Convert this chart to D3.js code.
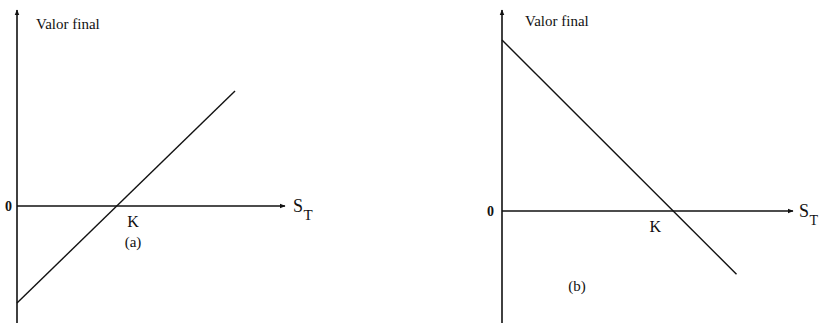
<!DOCTYPE html>
<html>
<head>
<meta charset="utf-8">
<script src="https://cdn.jsdelivr.net/npm/d3@7"></script>
<style>
  html, body { margin: 0; padding: 0; background: #fff; }
  svg { display: block; }
</style>
</head>
<body>
<svg id="chart" width="819" height="323"></svg>
<script>
// Payoff diagrams: value at maturity of a long (a) and a short (b) position, strike K = 100
const panelIds = ["(a)", "(b)"];
const strike = [100, 100];
// end points of each payoff line: S_T and final value
const payoffS = [[0, 218], [0, 137]];
const payoffV = [[-97, 115], [100, -37]];
// axis extents in data units
const xDomains = [[0, 268], [0, 170]];
const yDomains = [[-117, 196], [-65.5, 117.5]];
const yTitle = "Valor final";
const zeroLabel = "0";
const strikeLabel = "K";

const serif = "'Liberation Serif', 'DejaVu Serif', serif";

// layout of each panel on the page
const layout = [
  { x0: 17, x1: 285, yTop: 10, yBot: 323, kDx: 16, capX: 133, capY: 247, titleX: 36, titleY: 29, zeroX: 12, sX: 293, tSize: 15 },
  { x0: 502, x1: 793, yTop: 10, yBot: 323, kDx: -18, capX: 577, capY: 291, titleX: 525, titleY: 26, zeroX: 494, sX: 799, tSize: 14 }
];

const svg = d3.select("#chart");

const defs = svg.append("defs");
defs.append("marker")
  .attr("id", "arrow")
  .attr("viewBox", "0 0 10 10")
  .attr("refX", 9).attr("refY", 5)
  .attr("markerWidth", 6).attr("markerHeight", 6)
  .attr("markerUnits", "userSpaceOnUse")
  .attr("orient", "auto")
  .append("path")
  .attr("d", "M0,1 L10,5 L0,9 Z")
  .attr("fill", "#111");

panelIds.forEach((id, i) => {
  const L = layout[i];
  const x = d3.scaleLinear().domain(xDomains[i]).range([L.x0, L.x1]);
  const y = d3.scaleLinear().domain(yDomains[i]).range([L.yBot, L.yTop]);
  const g = svg.append("g")
    .attr("font-family", serif)
    .attr("fill", "#111");

  // vertical axis with arrow at the top
  g.append("line")
    .attr("x1", x(0)).attr("x2", x(0))
    .attr("y1", y(yDomains[i][0])).attr("y2", y(yDomains[i][1]))
    .attr("stroke", "#111").attr("stroke-width", 1.6)
    .attr("marker-end", "url(#arrow)");

  // horizontal axis through zero with arrow at the right
  g.append("line")
    .attr("x1", x(0)).attr("x2", x(xDomains[i][1]))
    .attr("y1", y(0)).attr("y2", y(0))
    .attr("stroke", "#111").attr("stroke-width", 1.4)
    .attr("marker-end", "url(#arrow)");

  // payoff line
  const pts = payoffS[i].map((s, j) => [s, payoffV[i][j]]);
  g.append("path")
    .datum(pts)
    .attr("d", d3.line().x(d => x(d[0])).y(d => y(d[1])))
    .attr("fill", "none")
    .attr("stroke", "#111").attr("stroke-width", 1.4);

  // labels
  g.append("text")
    .attr("x", L.titleX).attr("y", L.titleY)
    .attr("font-size", 15)
    .text(yTitle);

  g.append("text")
    .attr("x", L.zeroX).attr("y", y(0) + 5)
    .attr("text-anchor", "end")
    .attr("font-size", 14).attr("font-weight", "bold")
    .text(zeroLabel);

  g.append("text")
    .attr("x", x(strike[i]) + L.kDx).attr("y", y(0) + 21)
    .attr("text-anchor", "middle")
    .attr("font-size", 16)
    .text(strikeLabel);

  const st = g.append("text")
    .attr("x", L.sX).attr("y", y(0) + 6)
    .attr("font-size", 18);
  st.append("tspan").text("S");
  st.append("tspan").attr("dy", 8).attr("dx", 0.5).attr("font-size", L.tSize).text("T");

  g.append("text")
    .attr("x", L.capX).attr("y", L.capY)
    .attr("text-anchor", "middle")
    .attr("font-size", 15)
    .text(id);
});
</script>
</body>
</html>
